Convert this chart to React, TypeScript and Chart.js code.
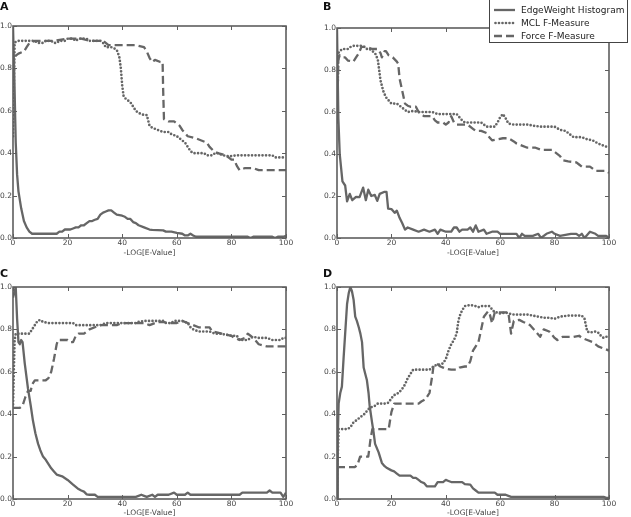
import React, { useEffect, useRef } from "react";
import { Chart, registerables } from "chart.js";

Chart.register(...registerables);

type P = [number, number][];

// ---------- Data (x = -LOG[E-Value], y = normalized value) ----------
const X_TICKS = [0, 20, 40, 60, 80, 100];
const Y_TICKS = [0, 0.2, 0.4, 0.6, 0.8, 1.0];
const SERIES_NAMES = ["EdgeWeight Histogram", "MCL F-Measure", "Force F-Measure"];
const PANEL_LABELS = ["A", "B", "C", "D"];
const X_TITLE = "-LOG[E-Value]";

const A_EDGE: P = [[0,1.0],[0.5,0.75],[1,0.45],[1.5,0.3],[2,0.22],[3,0.14],[4,0.08],[5,0.05],[6,0.03],[7,0.02],[8,0.02],[10,0.02],[12,0.02],[14,0.02],[16,0.02],[17,0.03],[18,0.03],[19,0.04],[21,0.04],[22,0.045],[23,0.05],[24,0.05],[25,0.06],[26,0.06],[27,0.07],[28,0.08],[29,0.08],[30,0.086],[31,0.09],[32,0.11],[33,0.12],[34,0.125],[35,0.13],[36,0.13],[37,0.12],[38,0.11],[40,0.105],[41,0.1],[42,0.09],[43,0.09],[44,0.075],[45,0.07],[46,0.06],[48,0.05],[50,0.04],[51,0.038],[55,0.036],[56,0.03],[58,0.03],[60,0.024],[62,0.02],[63,0.012],[64,0.012],[65,0.02],[66,0.012],[67,0.006],[70,0.006],[80,0.006],[86,0.006],[87,0],[88,0.006],[95,0.006],[96,0],[97,0.006],[99,0.006],[100,0.01]];
const A_MCL: P = [[0,0.48],[0.6,0.92],[1,0.925],[2,0.93],[4,0.93],[6,0.93],[8,0.93],[9,0.92],[11,0.92],[12,0.93],[14,0.93],[15,0.92],[16,0.92],[17,0.93],[19,0.93],[20,0.94],[22,0.94],[23,0.93],[24,0.94],[26,0.94],[27,0.94],[28,0.93],[30,0.93],[32,0.93],[33,0.92],[34,0.9],[36,0.9],[37,0.895],[38,0.887],[38.5,0.87],[39,0.85],[39.5,0.8],[40,0.72],[40.5,0.67],[41,0.66],[42,0.65],[43,0.64],[44,0.62],[45,0.6],[46,0.59],[48,0.58],[49,0.58],[50,0.53],[51,0.52],[53,0.51],[55,0.5],[57,0.5],[58,0.49],[60,0.48],[61,0.47],[62,0.46],[63,0.45],[64,0.43],[65,0.41],[66,0.4],[70,0.4],[71,0.39],[73,0.39],[74,0.4],[75,0.4],[77,0.39],[79,0.385],[82,0.39],[90,0.39],[95,0.39],[96,0.38],[100,0.38]];
const A_FORCE: P = [[0,0.8],[0.5,0.84],[1,0.86],[2,0.87],[4,0.88],[5,0.9],[6,0.92],[8,0.93],[10,0.93],[15,0.93],[20,0.94],[25,0.94],[28,0.93],[33,0.93],[35,0.91],[40,0.91],[45,0.91],[48,0.9],[49,0.88],[50,0.85],[51,0.83],[52,0.84],[54,0.83],[54.8,0.83],[55,0.7],[55.3,0.56],[57,0.55],[59,0.55],[61,0.53],[62,0.51],[64,0.48],[67,0.47],[69,0.46],[71,0.45],[72,0.43],[73.5,0.41],[75,0.4],[78,0.39],[80,0.37],[81,0.37],[82,0.34],[83,0.32],[85,0.33],[88,0.33],[90,0.32],[100,0.32]];

const B_EDGE: P = [[0,1.0],[0.5,0.57],[1,0.4],[2,0.27],[3,0.25],[3.7,0.175],[4.7,0.21],[5.6,0.18],[7,0.196],[8.3,0.195],[9.6,0.24],[10.6,0.18],[11.5,0.23],[12.6,0.2],[13.9,0.205],[14.8,0.177],[15.7,0.21],[17.5,0.22],[18.2,0.22],[18.8,0.14],[20,0.138],[21.2,0.12],[22,0.13],[23,0.096],[24,0.07],[25,0.04],[26,0.05],[28,0.04],[30,0.03],[32,0.04],[34,0.03],[36,0.04],[37,0.02],[38,0.04],[40,0.03],[42,0.03],[43,0.05],[44,0.05],[45,0.03],[46,0.04],[48,0.04],[49,0.05],[50,0.03],[51,0.06],[52,0.03],[54,0.04],[55,0.02],[57,0.03],[59,0.03],[60,0.02],[66,0.02],[67,0.0],[68,0.02],[69,0.01],[72,0.01],[74,0.02],[75,0.0],[77,0.02],[79,0.03],[80,0.02],[82,0.01],[86,0.02],[88,0.02],[89,0.01],[90,0.02],[91,0.0],[93,0.03],[95,0.02],[96,0.01],[99,0.01],[100,0.0]];
const B_MCL: P = [[0,0.55],[0.5,0.88],[1,0.89],[2,0.9],[4,0.9],[5,0.91],[6,0.915],[9,0.915],[10,0.91],[11,0.9],[12,0.9],[13,0.89],[14,0.88],[15,0.85],[15.5,0.8],[16,0.75],[17,0.7],[18,0.67],[19,0.655],[20,0.64],[22,0.64],[23,0.63],[24,0.62],[25,0.61],[26,0.6],[28,0.605],[30,0.6],[33,0.6],[35,0.6],[37,0.59],[40,0.59],[42,0.59],[44,0.59],[45,0.575],[46,0.56],[47,0.55],[50,0.55],[53,0.55],[54,0.54],[55,0.53],[57,0.53],[58,0.53],[59,0.55],[60,0.575],[61,0.59],[62,0.57],[63,0.545],[65,0.54],[70,0.54],[72,0.535],[75,0.53],[80,0.53],[82,0.515],[84,0.51],[85,0.5],[86,0.49],[87,0.48],[90,0.48],[92,0.47],[94,0.465],[96,0.45],[98,0.44],[100,0.43]];
const B_FORCE: P = [[0,0.55],[0.5,0.85],[1,0.87],[2,0.86],[3,0.86],[4,0.845],[6,0.84],[7,0.86],[8,0.88],[9,0.91],[11,0.91],[12,0.905],[13,0.9],[15,0.9],[16,0.88],[16.5,0.86],[17.5,0.89],[18,0.89],[19,0.87],[20.5,0.86],[22,0.84],[22.5,0.83],[23,0.76],[24,0.7],[25,0.64],[26,0.63],[27,0.625],[29,0.625],[30,0.6],[32,0.58],[35,0.58],[36,0.56],[37,0.55],[39,0.55],[40,0.54],[41,0.55],[42,0.58],[43,0.55],[44,0.54],[46,0.54],[48,0.54],[50,0.52],[51,0.51],[53,0.51],[55,0.5],[56,0.48],[57,0.465],[59,0.47],[61,0.475],[63,0.475],[65,0.46],[66,0.45],[68,0.44],[70,0.43],[73,0.43],[75,0.42],[79,0.42],[80,0.41],[82,0.39],[83,0.37],[85,0.365],[88,0.36],[89,0.35],[90,0.34],[93,0.34],[94,0.33],[95,0.32],[99,0.32],[100,0.31]];

const C_EDGE: P = [[0,0.95],[1,1.0],[1.5,0.85],[2,0.74],[2.5,0.73],[3,0.75],[3.5,0.74],[4.3,0.64],[5.5,0.52],[6.5,0.44],[7.3,0.37],[8.2,0.31],[9.2,0.26],[10,0.23],[11,0.2],[12,0.185],[13,0.165],[14,0.145],[15,0.13],[16,0.115],[18,0.107],[20,0.09],[22,0.068],[24,0.047],[25,0.04],[26,0.035],[27,0.022],[28,0.02],[30,0.02],[31,0.01],[35,0.01],[40,0.01],[45,0.01],[46,0.015],[47,0.02],[48,0.015],[49,0.01],[50,0.015],[51,0.02],[52,0.01],[53,0.02],[57,0.02],[59,0.03],[60,0.02],[63,0.02],[64,0.03],[65,0.02],[70,0.02],[80,0.02],[83,0.02],[84,0.03],[90,0.03],[93,0.03],[94,0.04],[95,0.03],[98,0.03],[99,0.01],[100,0.03]];
const C_MCL: P = [[0,0.43],[0.3,0.6],[0.6,0.75],[1,0.78],[3,0.78],[5,0.78],[6,0.78],[7,0.8],[8,0.82],[9,0.84],[10,0.845],[11,0.835],[13,0.83],[20,0.83],[22,0.83],[23,0.82],[26,0.82],[30,0.82],[32,0.82],[33,0.825],[34,0.83],[40,0.83],[45,0.83],[46,0.835],[48,0.84],[50,0.84],[55,0.84],[56,0.83],[58,0.83],[59,0.84],[62,0.84],[63,0.835],[64,0.83],[65,0.81],[66,0.8],[68,0.79],[72,0.79],[74,0.78],[76,0.78],[78,0.775],[80,0.77],[82,0.77],[83,0.75],[86,0.75],[87,0.76],[88,0.765],[90,0.76],[93,0.76],[94,0.755],[95,0.75],[98,0.75],[99,0.76],[100,0.76]];
const C_FORCE: P = [[0,0.43],[2.5,0.43],[3.5,0.44],[4.5,0.48],[5.5,0.51],[6.5,0.51],[7,0.54],[8,0.56],[12,0.56],[13,0.57],[14,0.6],[15,0.66],[16,0.73],[16.5,0.75],[18,0.75],[20,0.75],[21,0.74],[22,0.74],[23,0.77],[24,0.78],[26,0.78],[27,0.79],[28,0.8],[30,0.81],[32,0.82],[35,0.82],[38,0.82],[40,0.83],[43,0.83],[46,0.83],[48,0.83],[50,0.82],[51,0.825],[53,0.835],[55,0.835],[57,0.83],[60,0.83],[62,0.84],[64,0.83],[66,0.82],[68,0.81],[72,0.81],[73,0.79],[75,0.785],[78,0.775],[80,0.77],[81,0.76],[83,0.75],[85,0.76],[86,0.78],[87,0.77],[88,0.76],[90,0.73],[93,0.72],[97,0.72],[100,0.72]];

const D_EDGE: P = [[0,0],[0.3,0.3],[0.6,0.45],[1.2,0.5],[1.8,0.53],[2.4,0.66],[3,0.78],[3.7,0.92],[4.3,0.97],[4.9,1.0],[5.5,0.98],[6.1,0.94],[6.7,0.86],[7.3,0.84],[8,0.81],[8.6,0.78],[9.2,0.74],[9.8,0.62],[10.4,0.59],[11,0.56],[11.6,0.5],[12,0.44],[12.9,0.36],[13.5,0.31],[14,0.26],[15.3,0.22],[16.5,0.17],[17.5,0.155],[18.4,0.146],[20,0.135],[21,0.13],[22,0.12],[23,0.11],[27,0.11],[28,0.1],[29,0.1],[30,0.09],[31,0.08],[32,0.075],[33,0.06],[36,0.06],[37,0.08],[39,0.08],[40,0.09],[41,0.085],[42,0.08],[46,0.08],[47,0.07],[49,0.068],[50,0.05],[51,0.04],[52,0.03],[58,0.03],[59,0.02],[62,0.02],[63,0.015],[64,0.01],[80,0.01],[98,0.01],[99,0.005],[100,0.005]];
const D_MCL: P = [[0,0],[0.3,0.2],[0.6,0.33],[2,0.33],[4,0.33],[5,0.34],[6,0.36],[7,0.37],[8,0.38],[9,0.39],[10,0.4],[11,0.415],[12,0.43],[13,0.435],[14,0.44],[15,0.45],[18,0.45],[19,0.455],[20,0.475],[21,0.49],[22,0.495],[23,0.505],[24,0.52],[25,0.54],[26,0.57],[27,0.59],[28,0.61],[30,0.61],[34,0.61],[35,0.62],[36,0.63],[38,0.635],[39,0.64],[40,0.66],[41,0.7],[42,0.73],[43,0.75],[44,0.78],[44.5,0.83],[45,0.86],[46,0.89],[47,0.91],[49,0.915],[51,0.91],[52,0.905],[53,0.91],[56,0.91],[57,0.895],[58,0.88],[59,0.88],[60,0.875],[62,0.88],[63,0.875],[65,0.87],[70,0.87],[72,0.865],[74,0.86],[76,0.855],[78,0.855],[80,0.85],[82,0.86],[85,0.865],[90,0.865],[91,0.85],[92,0.79],[93,0.785],[95,0.79],[96,0.785],[97,0.77],[98,0.76],[100,0.77]];
const D_FORCE: P = [[0,0.15],[3,0.15],[6.5,0.15],[7.5,0.16],[8.5,0.2],[10,0.2],[11.5,0.2],[12.3,0.28],[13,0.33],[15,0.33],[19,0.33],[20,0.41],[21,0.45],[25,0.45],[30,0.45],[31,0.46],[32.5,0.47],[34,0.5],[35,0.58],[35.5,0.63],[37,0.635],[38,0.625],[39,0.62],[40,0.615],[42,0.61],[44,0.61],[45,0.62],[47,0.625],[48,0.625],[49,0.65],[50,0.7],[52,0.74],[53,0.8],[54,0.86],[55.5,0.885],[56,0.88],[57,0.83],[58,0.88],[60,0.88],[63,0.88],[64,0.78],[65,0.84],[67,0.845],[68.5,0.835],[71,0.82],[73,0.79],[74.7,0.765],[76,0.8],[78,0.79],[80,0.76],[81,0.75],[83,0.765],[87,0.765],[89,0.77],[90,0.76],[92,0.75],[94,0.74],[96,0.72],[98,0.71],[100,0.7]];

const PANEL_SERIES: P[][] = [
  [A_EDGE, A_MCL, A_FORCE],
  [B_EDGE, B_MCL, B_FORCE],
  [C_EDGE, C_MCL, C_FORCE],
  [D_EDGE, D_MCL, D_FORCE],
];

// ---------- Styles ----------
const LINE = "#666666";
const FRAME = "#5e5e5e";
const TEXT = "#444444";
const FONT = "DejaVu Sans";
const DASHES: number[][] = [[], [0, 3.5], [8, 4]];
const WIDTHS = [2.3, 2.7, 2.3];

const CW = 300;
const CH = 258;
const LAYOUT = [
  { left: 0, top: 0, padTop: 26, padRight: 14, xAxisH: 20, lx: 0, ly: 1 },
  { left: 324, top: 0, padTop: 28, padRight: 15, xAxisH: 20, lx: 323, ly: 1 },
  { left: 0, top: 260, padTop: 27, padRight: 14, xAxisH: 19, lx: 0, ly: 268 },
  { left: 324, top: 260, padTop: 27, padRight: 15, xAxisH: 19, lx: 323, ly: 268 },
];

const framePlugin = {
  id: "mplFrame",
  afterDatasetsDraw(chart: any) {
    const { ctx, chartArea: a, scales } = chart;
    ctx.save();
    ctx.strokeStyle = FRAME;
    ctx.lineWidth = 1;
    const L = 4;
    ctx.beginPath();
    for (const v of X_TICKS) {
      const px = Math.round(scales.x.getPixelForValue(v)) + 0.5;
      ctx.moveTo(px, a.bottom);
      ctx.lineTo(px, a.bottom - L);
      ctx.moveTo(px, a.top);
      ctx.lineTo(px, a.top + L);
    }
    for (const v of Y_TICKS) {
      const py = Math.round(scales.y.getPixelForValue(v)) + 0.5;
      ctx.moveTo(a.left, py);
      ctx.lineTo(a.left + L, py);
      ctx.moveTo(a.right, py);
      ctx.lineTo(a.right - L, py);
    }
    ctx.stroke();
    ctx.lineWidth = 1.6;
    ctx.strokeRect(a.left, a.top, a.right - a.left, a.bottom - a.top);
    ctx.restore();
  },
};

function Panel({ idx }: { idx: number }) {
  const ref = useRef<HTMLCanvasElement | null>(null);
  const lay = LAYOUT[idx];
  useEffect(() => {
    if (!ref.current) return;
    const series = PANEL_SERIES[idx];
    const chart = new Chart(ref.current, {
      type: "line",
      data: {
        datasets: series.map((s, i) => ({
          label: SERIES_NAMES[i],
          data: s.map(([x, y]) => ({ x, y })),
          borderColor: LINE,
          borderWidth: WIDTHS[i],
          borderDash: DASHES[i],
          borderCapStyle: i === 1 ? "round" : "butt",
          borderJoinStyle: "round",
          pointRadius: 0,
          fill: false,
          tension: 0,
        })),
      },
      options: {
        responsive: false,
        animation: false,
        devicePixelRatio: 1,
        layout: { padding: { top: lay.padTop, right: lay.padRight, left: 0, bottom: 0 } },
        plugins: { legend: { display: false }, tooltip: { enabled: false }, title: { display: false } },
        scales: {
          x: {
            type: "linear",
            min: 0,
            max: 100,
            afterFit: (s: any) => { s.height = lay.xAxisH; },
            afterBuildTicks: (s: any) => { s.ticks = X_TICKS.map((v) => ({ value: v })); },
            grid: { display: false, drawTicks: false },
            border: { display: false },
            ticks: { padding: 1, color: TEXT, font: { family: FONT, size: 7.5 }, maxRotation: 0, callback: (v: any) => String(v) },
            title: { display: true, text: X_TITLE, color: TEXT, font: { family: FONT, size: 7.5 }, padding: 0 },
          },
          y: {
            type: "linear",
            min: 0,
            max: 1,
            afterFit: (s: any) => { s.width = 13; },
            afterBuildTicks: (s: any) => { s.ticks = Y_TICKS.map((v) => ({ value: v })); },
            grid: { display: false, drawTicks: false },
            border: { display: false },
            ticks: { padding: 1, color: TEXT, font: { family: FONT, size: 7.5 }, callback: (v: any) => Number(v).toFixed(1) },
          },
        },
      },
      plugins: [framePlugin],
    } as any);
    return () => chart.destroy();
  }, [idx]);
  return (
    <>
      <canvas
        ref={ref}
        width={CW}
        height={CH}
        style={{ position: "absolute", left: lay.left, top: lay.top, width: CW, height: CH }}
      />
      <div
        style={{
          position: "absolute",
          left: lay.lx,
          top: lay.ly,
          fontFamily: FONT,
          fontWeight: "bold",
          fontSize: 11,
          lineHeight: "11px",
          color: "#111",
        }}
      >
        {PANEL_LABELS[idx]}
      </div>
    </>
  );
}

function Legend() {
  const rows = [8.5, 21.5, 34.5];
  return (
    <div
      style={{
        position: "absolute",
        left: 489,
        top: -1,
        width: 137,
        height: 42,
        border: "1px solid #444",
        background: "#fff",
      }}
    >
      {SERIES_NAMES.map((name, i) => (
        <div key={name} style={{ position: "absolute", left: 0, top: rows[i] + 1 - 6, height: 12, width: 137 }}>
          <svg width={22} height={12} style={{ position: "absolute", left: 4, top: 0 }}>
            <line
              x1={i === 1 ? 1.5 : 0}
              y1={6}
              x2={i === 1 ? 20 : 21}
              y2={6}
              stroke={LINE}
              strokeWidth={WIDTHS[i]}
              strokeDasharray={DASHES[i].length ? DASHES[i].join(" ") : undefined}
              strokeLinecap={i === 1 ? "round" : "butt"}
            />
          </svg>
          <span
            style={{
              position: "absolute",
              left: 31,
              top: 0,
              fontFamily: FONT,
              fontSize: 9,
              lineHeight: "12px",
              color: "#222",
              whiteSpace: "nowrap",
            }}
          >
            {name}
          </span>
        </div>
      ))}
    </div>
  );
}

export default function App() {
  return (
    <div
      style={{
        position: "fixed",
        left: 0,
        top: 0,
        width: 631,
        height: 517,
        overflow: "hidden",
        background: "#fff",
      }}
    >
      {[0, 1, 2, 3].map((i) => (
        <Panel key={i} idx={i} />
      ))}
      <Legend />
    </div>
  );
}
